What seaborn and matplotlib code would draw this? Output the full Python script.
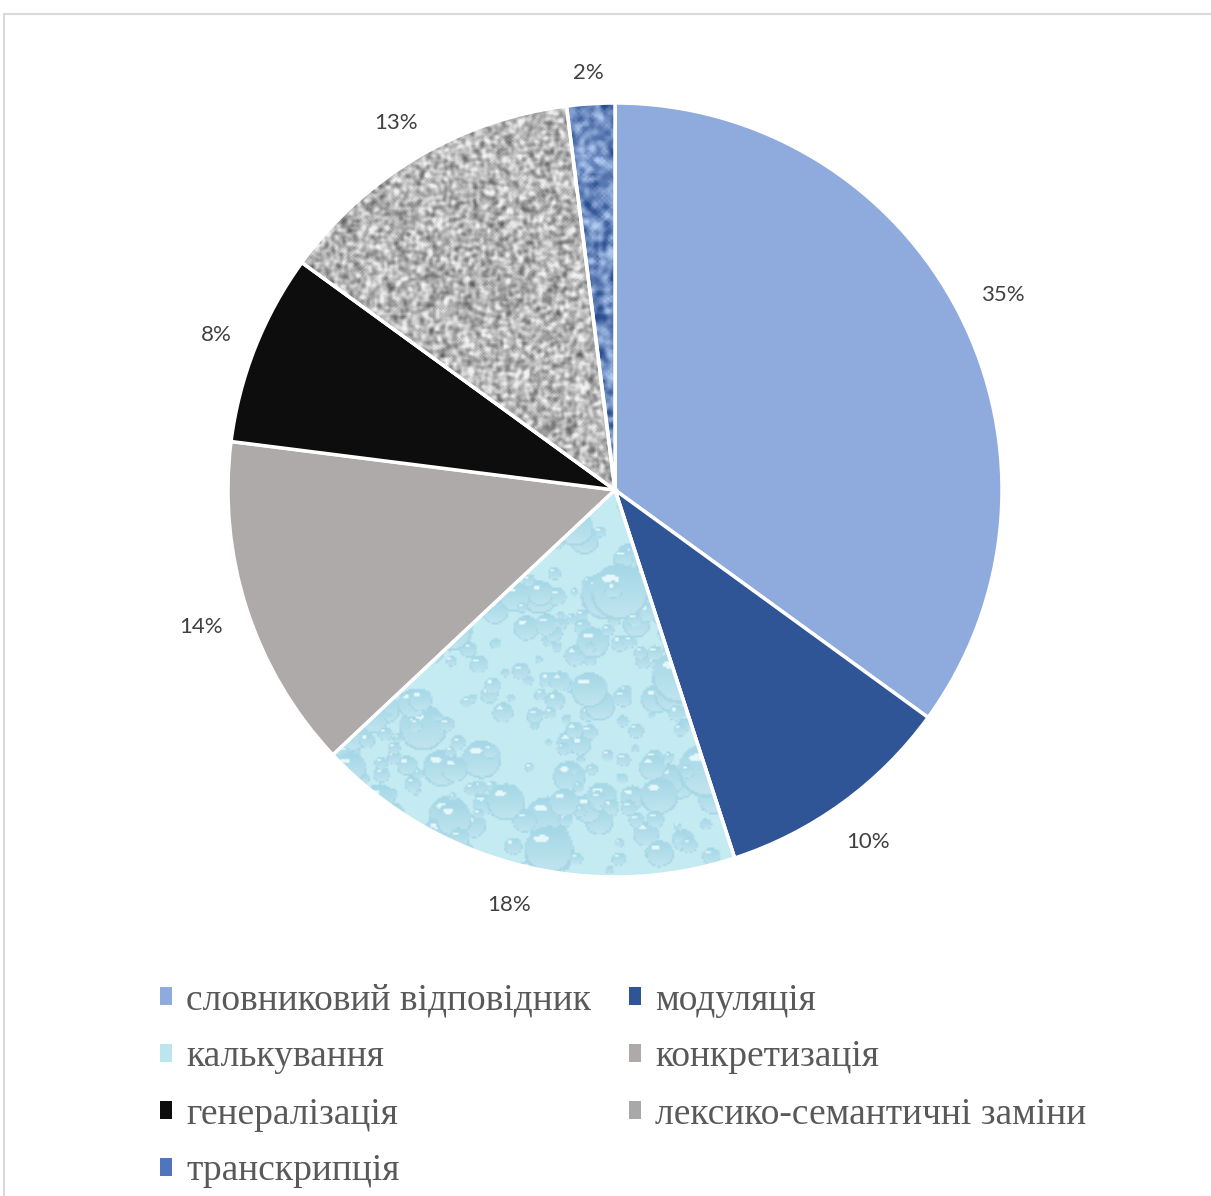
import numpy as np
import matplotlib
matplotlib.use("Agg")
import matplotlib.pyplot as plt
import seaborn as sns
from matplotlib.patches import Rectangle, Wedge

sns.set_theme(style="white")
plt.rcParams["font.family"] = ["Liberation Serif", "DejaVu Serif"]

# Data
categories = [
    "словниковий відповідник",
    "модуляція",
    "калькування",
    "конкретизація",
    "генералізація",
    "лексико-семантичні заміни",
    "транскрипція",
]
shares = [35, 10, 18, 14, 8, 13, 2]
base_colors = ["#8faadc", "#2f5597", "#bde5ee", "#aeaaaa", "#0d0d0d", "#a8a8a8", "#4f76bd"]

W, H = 1211, 1196
fig = plt.figure(figsize=(W / 100, H / 100), dpi=100)
ax = fig.add_axes([0, 0, 1, 1])

cx, cy, r = 615, H - 490, 387
wedges, _, pct_texts = ax.pie(
    shares,
    colors=base_colors,
    startangle=90,
    counterclock=False,
    center=(cx, cy),
    radius=r,
    autopct=lambda p: f"{p:.0f}%",
    pctdistance=1.12,
    wedgeprops=dict(edgecolor="white", linewidth=2.5),
    textprops=dict(family=["Lato", "DejaVu Sans"], fontsize=16, color="#404040"),
)
ax.set_xlim(0, W)
ax.set_ylim(0, H)
ax.set_aspect("equal")
ax.axis("off")

# Place each percentage just outside the rim, keeping a constant gap to its box
fig.canvas.draw()
renderer = fig.canvas.get_renderer()
gap = 25
for w, t in zip(wedges, pct_texts):
    mid = np.deg2rad((w.theta1 + w.theta2) / 2)
    ux, uy = np.cos(mid), np.sin(mid)
    bb = t.get_window_extent(renderer)
    dist = r + gap + abs(ux) * bb.width / 2 + abs(uy) * bb.height * 0.4
    t.set_position((cx + dist * ux, cy - 3 + dist * uy))

# Fill textures for three of the wedges
rng = np.random.default_rng(7)


def smooth_noise(shape, passes):
    a = rng.random(shape)
    for _ in range(passes):
        a = (a + np.roll(a, 1, 0) + np.roll(a, -1, 0) + np.roll(a, 1, 1) + np.roll(a, -1, 1)) / 5
    return (a - a.mean()) / a.std()


def granite():
    n = smooth_noise((480, 480), 2)
    g = np.clip(0.72 + 0.11 * n, 0.25, 0.95)
    return np.dstack([g, g, g])


def blue_weave():
    n = smooth_noise((330, 330), 2)
    t = np.clip(0.5 + 0.22 * n, 0, 1)[..., None]
    dark = np.array([0.16, 0.30, 0.56])
    light = np.array([0.70, 0.80, 0.95])
    return dark + (light - dark) * t


def water_drops():
    size = 420
    base = np.array([0.77, 0.92, 0.95])
    img = np.ones((size, size, 3)) * base
    yy, xx = np.mgrid[0:size, 0:size]
    for _ in range(1400):
        x0, y0 = rng.uniform(0, size, 2)
        rad = rng.choice([rng.uniform(2, 5), rng.uniform(4, 9), rng.uniform(8, 16)], p=[0.55, 0.35, 0.10])
        d = ((xx - x0) ** 2 + ((yy - y0) * 1.05) ** 2) / rad ** 2
        inside = d < 1
        if not inside.any():
            continue
        t = np.clip((yy - y0) / rad, -1, 1)
        body = np.stack([0.70 + 0.06 * t, 0.87 + 0.03 * t, 0.92 + 0.02 * t], -1)
        img[inside] = body[inside]
        shadow = (d > 0.8) & inside & (yy > y0)
        img[shadow] = np.array([0.66, 0.84, 0.90])
        hl = (((xx - (x0 - rad * 0.3)) ** 2 + ((yy - (y0 - rad * 0.45)) * 2.2) ** 2) < (rad * 0.3) ** 2)
        img[hl] = np.array([0.90, 0.97, 0.98])
    return img


textures = {2: water_drops(), 5: granite(), 6: blue_weave()}
extent = (cx - r, cx + r, cy - r, cy + r)
for idx, img in textures.items():
    w = wedges[idx]
    im = ax.imshow(img, extent=extent, interpolation="bilinear", zorder=1.5)
    im.set_clip_path(w)
    ax.add_patch(Wedge(w.center, w.r, w.theta1, w.theta2, facecolor="none",
                       edgecolor="white", linewidth=2.5, zorder=2))

# Chart area border
ax.add_patch(Rectangle((4, -20), W + 20, H - 14 + 20, facecolor="none",
                       edgecolor="#d9d9d9", linewidth=1.5, zorder=0))

# Legend filled row by row across two columns
order = [0, 2, 4, 6, 1, 3, 5]
leg = ax.legend(
    [wedges[i] for i in order],
    [categories[i] for i in order],
    ncol=2,
    loc="upper left",
    bbox_to_anchor=(160 / W, 1 - 983 / H),
    bbox_transform=fig.transFigure,
    frameon=False,
    borderpad=0,
    borderaxespad=0,
    fontsize=27,
    labelcolor="#595959",
    handlelength=0.33,
    handleheight=0.33,
    handletextpad=0.37,
    columnspacing=1.0,
    labelspacing=0.6,
)
for h in leg.legend_handles:
    h.set_edgecolor("none")

fig.savefig("out.png", dpi=100)
